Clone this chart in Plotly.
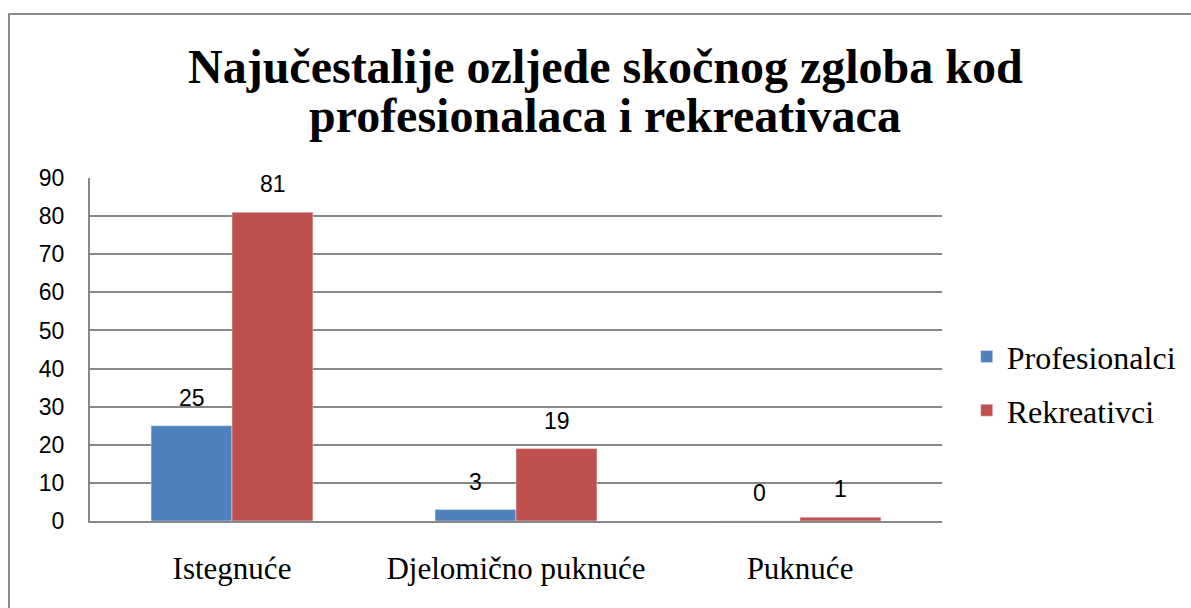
"""Grouped bar chart: most common ankle injuries, pros vs. recreational."""

import plotly.graph_objects as go

categories = ["Istegnuće", "Djelomično puknuće", "Puknuće"]
profesionalci = [25, 3, 0]
rekreativci = [81, 19, 1]
y_ticks = [0, 10, 20, 30, 40, 50, 60, 70, 80, 90]

title_lines = ["Najučestalije ozljede skočnog zgloba kod", "profesionalaca i rekreativaca"]

BLUE = "#4F81BD"
RED = "#C0504D"
GRID = "#888888"
SERIF = "Liberation Serif, Times New Roman, serif"
SANS = "Liberation Sans, Arial, sans-serif"

fig = go.Figure()
fig.add_trace(go.Bar(name="Profesionalci", x=categories, y=profesionalci,
                     marker_color=BLUE, legendgroup="a"))
fig.add_trace(go.Bar(name="Rekreativci", x=categories, y=rekreativci,
                     marker_color=RED, legendgroup="b"))

# data labels above each bar
for series, shift in ((profesionalci, -40.5), (rekreativci, 40.5)):
    for cat, val in zip(categories, series):
        fig.add_annotation(x=cat, y=val, text=str(val), showarrow=False,
                           xshift=shift, yshift=28, yanchor="middle",
                           font=dict(family=SANS, size=23, color="#000000"))

# title as two annotations so the line spacing can be tighter than plotly's title
for line, ypos in zip(title_lines, (1.3265, 1.1808)):
    fig.add_annotation(text=f"<b>{line}</b>", xref="paper", yref="paper",
                       x=0.6045, y=ypos, xanchor="center", yanchor="middle",
                       showarrow=False,
                       font=dict(family=SERIF, size=48, color="#000000"))

# outer chart frame (runs off the right/bottom edge in the original)
fig.add_shape(type="rect", xref="paper", yref="paper",
              x0=-0.0951, x1=1.6, y0=-0.6, y1=1.478,
              line=dict(color="#8a8a8a", width=2), fillcolor="rgba(0,0,0,0)")

fig.update_layout(
    width=1191,
    height=608,
    barmode="group",
    bargap=0.43,
    bargroupgap=0,
    plot_bgcolor="white",
    paper_bgcolor="white",
    margin=dict(l=90, r=249, t=178, b=87, autoexpand=False),
    legend=dict(x=1.029, y=0.40, xanchor="left", yanchor="middle",
                font=dict(family=SERIF, size=32, color="#000000"),
                tracegroupgap=9, itemclick=False),
    xaxis=dict(showgrid=False, showline=True, linecolor=GRID, linewidth=2,
               tickfont=dict(family=SERIF, size=31, color="#000000"),
               ticks="", ticklabelstandoff=19),
    yaxis=dict(range=[0, 90], tickvals=y_ticks, showgrid=True, gridcolor=GRID,
               gridwidth=2, showline=True, linecolor=GRID, linewidth=2,
               zeroline=False, ticks="", ticklabelstandoff=19,
               tickfont=dict(family=SANS, size=23, color="#000000")),
)

# drop the page's default body margin so the figure sits at the window origin
fig.write_html("out.html", config={"displayModeBar": False},
               post_script="document.body.style.margin='0';")
